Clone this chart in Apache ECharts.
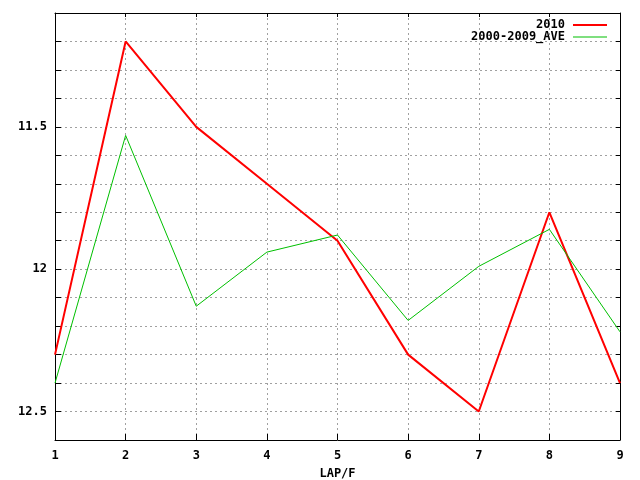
<!DOCTYPE html>
<html><head><meta charset="utf-8">
<script src="https://cdn.jsdelivr.net/npm/echarts@6/dist/echarts.min.js"></script>
<style>html,body{margin:0;padding:0;background:#fff}#c{width:640px;height:480px}</style>
</head><body><div id="c"></div>
<script>
const laps = [1, 2, 3, 4, 5, 6, 7, 8, 9];
const series2010 = [12.3, 11.2, 11.5, 11.7, 11.9, 12.3, 12.5, 11.8, 12.4];
const seriesAve = [12.4, 11.53, 12.13, 11.94, 11.88, 12.18, 11.99, 11.86, 12.22];
const seriesNames = ['2010', '2000-2009_AVE'];
const xTitle = 'LAP/F';

const font = {fontFamily: 'DejaVu Sans Mono', fontWeight: 'bold', fontSize: 12, color: '#000'};
const gridLine = {show: true, lineStyle: {color: '#a0a0a0', type: [2, 3], width: 1}};
const axisLine = {show: true, lineStyle: {color: '#000', width: 1}};

const chart = echarts.init(document.getElementById('c'));
chart.setOption({
  animation: false,
  backgroundColor: '#fff',
  grid: {left: 55, right: 20, top: 13, bottom: 40, containLabel: false, outerBoundsMode: 'none'},
  legend: [
    {data: [seriesNames[0]], right: 33, top: 19, padding: 0, orient: 'vertical', align: 'right',
     itemWidth: 34, itemHeight: 12, itemGap: 0, textStyle: Object.assign({}, font, {padding: [0, 3, 0, 0]}), icon: 'path://M0,5 L34,5 L34,7 L0,7 Z'},
    {data: [seriesNames[1]], right: 33, top: 31, padding: 0, orient: 'vertical', align: 'right',
     itemWidth: 34, itemHeight: 12, itemGap: 0, textStyle: Object.assign({}, font, {padding: [0, 3, 0, 0]}), icon: 'path://M0,5.5 L34,5.5 L34,6.5 L0,6.5 Z'}
  ],
  xAxis: [
    {type: 'value', min: 1, max: 9, interval: 1, position: 'bottom',
     axisLine: axisLine, axisTick: {show: true, inside: true, length: 6, lineStyle: {color: '#000'}},
     axisLabel: Object.assign({margin: 10}, font), splitLine: gridLine,
     name: xTitle, nameLocation: 'middle', nameGap: 28, nameTextStyle: font},
    {type: 'value', min: 1, max: 9, interval: 1, position: 'top',
     axisLine: axisLine, axisTick: {show: true, inside: true, length: 4, lineStyle: {color: '#000'}},
     axisLabel: {show: false}, splitLine: {show: false}}
  ],
  yAxis: [
    {type: 'value', inverse: true, min: 11.1, max: 12.6, interval: 0.1, position: 'left',
     axisLine: axisLine, axisTick: {show: true, inside: true, length: 6, lineStyle: {color: '#000'}},
     axisLabel: Object.assign({margin: 8, showMinLabel: true, showMaxLabel: true,
       formatter: v => Math.abs(v * 2 - Math.round(v * 2)) < 1e-6 ? String(Math.round(v * 2) / 2) : ''}, font),
     splitLine: gridLine},
    {type: 'value', inverse: true, min: 11.1, max: 12.6, interval: 0.1, position: 'right',
     axisLine: axisLine, axisTick: {show: true, inside: true, length: 4, lineStyle: {color: '#000'}},
     axisLabel: {show: false}, splitLine: {show: false}}
  ],
  series: [
    {name: seriesNames[0], type: 'line', data: laps.map((x, i) => [x, series2010[i]]),
     showSymbol: false, symbol: 'none', color: '#ff0000', lineStyle: {color: '#ff0000', width: 2}},
    {name: seriesNames[1], type: 'line', data: laps.map((x, i) => [x, seriesAve[i]]),
     showSymbol: false, symbol: 'none', color: '#00c000', lineStyle: {color: '#00c000', width: 1}}
  ]
});
</script></body></html>
